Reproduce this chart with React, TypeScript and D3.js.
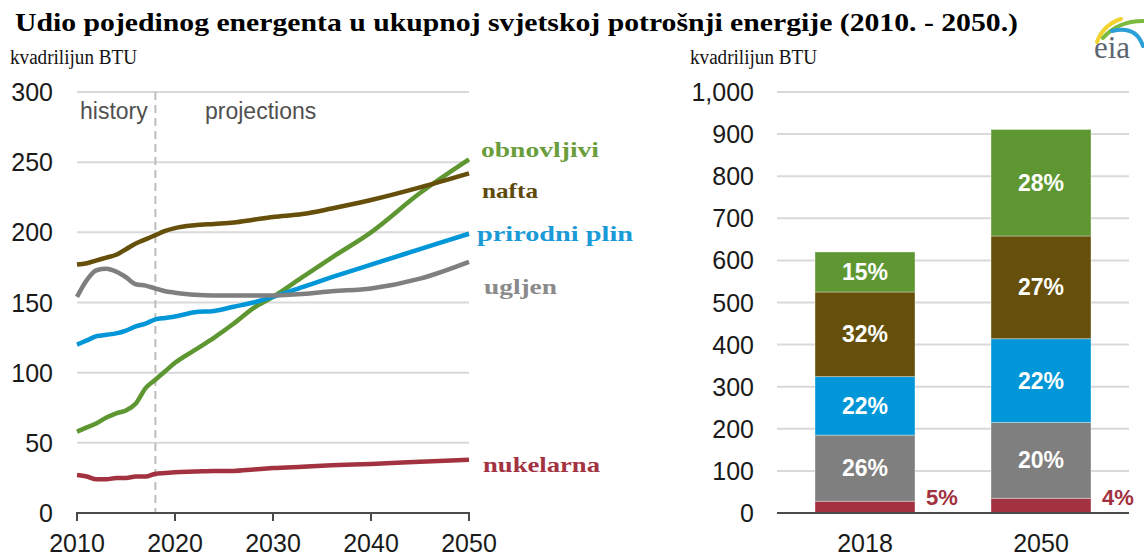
import React from 'react';
import * as d3 from 'd3';

// line chart data, quadrillion BTU
const years = [2010, 2011, 2012, 2013, 2014, 2015, 2016, 2017, 2018, 2019, 2020, 2022, 2024, 2026, 2028, 2030, 2033, 2036, 2040, 2045, 2050];
const renewables = [58, 61, 64, 68, 71, 73, 78, 89, 95, 101, 107, 116, 125, 135, 146, 154, 168, 182, 200, 228, 252];
const oil = [177, 178, 180, 182, 184, 188, 192, 195, 198, 201, 203, 205, 206, 207, 209, 211, 213, 217, 223, 232, 242];
const gas = [120, 123, 126, 127, 128, 130, 133, 135, 138, 139, 140, 143, 144, 147, 150, 154, 161, 168, 177, 188, 199];
const coal = [154, 166, 173, 174, 172, 168, 163, 162, 160, 158, 157, 155.5, 155, 155, 155, 155, 156, 158, 160, 167, 179];
const nuclear = [27, 26, 24, 24, 25, 25, 26, 26, 28, 28.5, 29, 29.5, 30, 30, 31, 32, 33, 34, 35, 36.5, 38];

const lineTicksY = [0, 50, 100, 150, 200, 250, 300];
const lineTicksX = [2010, 2020, 2030, 2040, 2050];

// stacked bars
const barYears = ['2018', '2050'];
const barNuclear = [28, 35];
const barCoal = [157, 180];
const barGas = [139, 199];
const barOil = [201, 244];
const barRenew = [95, 253];
const pctNuclear = ['5%', '4%'];
const pctCoal = ['26%', '20%'];
const pctGas = ['22%', '22%'];
const pctOil = ['32%', '27%'];
const pctRenew = ['15%', '28%'];
const barTicksY = [0, 100, 200, 300, 400, 500, 600, 700, 800, 900, 1000];

const C = {
  renew: '#5e9732',
  oil: '#654f0a',
  gas: '#0096d7',
  coal: '#7f7f7f',
  nuclear: '#a2323f',
};

const series = [
  { name: 'obnovljivi', values: renewables, color: C.renew, text: '#6a9e3c', ly: 157, lx: 481, len: 118 },
  { name: 'nafta', values: oil, color: C.oil, text: '#5e4a0c', ly: 198, lx: 482, len: 56 },
  { name: 'prirodni plin', values: gas, color: C.gas, text: '#1a9ad6', ly: 241, lx: 477, len: 156 },
  { name: 'ugljen', values: coal, color: C.coal, text: '#8a8a8a', ly: 294, lx: 484, len: 73 },
  { name: 'nukelarna', values: nuclear, color: C.nuclear, text: '#a33342', ly: 472, lx: 483, len: 117 },
];

const App = () => {
  // left line chart
  const x = d3.scaleLinear().domain([2010, 2050]).range([77, 469]);
  const y = d3.scaleLinear().domain([0, 300]).range([513, 92]);
  const line = d3.line<number>()
    .x((_, i) => x(years[i]))
    .y(d => y(d))
    .curve(d3.curveMonotoneX);

  // right stacked bars
  const xb = d3.scaleBand().domain(barYears).range([777, 1129]).paddingInner(0.432).paddingOuter(0.216);
  const yb = d3.scaleLinear().domain([0, 1000]).range([513, 92]);
  const layers = [
    { vals: barNuclear, color: C.nuclear, pct: pctNuclear },
    { vals: barCoal, color: C.coal, pct: pctCoal },
    { vals: barGas, color: C.gas, pct: pctGas },
    { vals: barOil, color: C.oil, pct: pctOil },
    { vals: barRenew, color: C.renew, pct: pctRenew },
  ];
  const fmt = d3.format(',');

  return (
    <div style={{ position: 'fixed', left: 0, top: 0 }}>
      <svg width={1144} height={556} style={{ display: 'block', background: '#fff' }}>
        <text x={15} y={31} fontFamily="Liberation Serif" fontWeight="bold" fontSize={25} fill="#000"
          textLength={1003} lengthAdjust="spacingAndGlyphs">
          Udio pojedinog energenta u ukupnoj svjetskoj potrošnji energije (2010. - 2050.)
        </text>

        {/* eia logo */}
        <g>
          <path d="M1097,42 Q1103,25 1121,19" fill="none" stroke="#f2d22e" strokeWidth={4} strokeLinecap="round" />
          <path d="M1103,38 Q1118,21 1143,21" fill="none" stroke="#7cba3f" strokeWidth={4} strokeLinecap="round" />
          <path d="M1112,31 Q1136,25 1143,46" fill="none" stroke="#2a9fd8" strokeWidth={4} strokeLinecap="round" />
          <text x={1094} y={58} fontFamily="Liberation Serif" fontSize={31} fill="#5b6770">eia</text>
        </g>

        {/* left chart */}
        <text x={10} y={64} fontFamily="Liberation Serif" fontSize={20} fill="#111"
          textLength={127} lengthAdjust="spacingAndGlyphs">kvadrilijun BTU</text>
        {lineTicksY.map(t => (
          <g key={t}>
            {t > 0 && <line x1={77} x2={469} y1={y(t)} y2={y(t)} stroke="#d9d9d9" strokeWidth={2} />}
            <text x={53} y={y(t) + 9} textAnchor="end" fontFamily="Liberation Sans" fontSize={25} fill="#1a1a1a">{t}</text>
          </g>
        ))}
        <line x1={x(2018)} x2={x(2018)} y1={92} y2={513} stroke="#bdbdbd" strokeWidth={2} strokeDasharray="8,5" />
        <text x={80} y={119} fontFamily="Liberation Sans" fontSize={23} fill="#505050">history</text>
        <text x={205} y={119} fontFamily="Liberation Sans" fontSize={23} fill="#505050">projections</text>
        {series.map(s => (
          <path key={s.name} d={line(s.values) || ''} fill="none" stroke={s.color} strokeWidth={4.5} strokeLinejoin="round" />
        ))}
        <line x1={76} x2={470} y1={513} y2={513} stroke="#4a4a4a" strokeWidth={2} />
        {lineTicksX.map(t => (
          <g key={t}>
            <line x1={x(t)} x2={x(t)} y1={513} y2={521} stroke="#4a4a4a" strokeWidth={2} />
            <text x={x(t)} y={552} textAnchor="middle" fontFamily="Liberation Sans" fontSize={25} fill="#1a1a1a">{t}</text>
          </g>
        ))}
        {series.map(s => (
          <text key={s.name} x={s.lx} y={s.ly} fontFamily="Liberation Serif" fontWeight="bold" fontSize={22} fill={s.text}
            textLength={s.len} lengthAdjust="spacingAndGlyphs">{s.name}</text>
        ))}

        {/* right chart */}
        <text x={690} y={64} fontFamily="Liberation Serif" fontSize={20} fill="#111"
          textLength={127} lengthAdjust="spacingAndGlyphs">kvadrilijun BTU</text>
        {barTicksY.map(t => (
          <g key={t}>
            {t > 0 && <line x1={777} x2={1129} y1={yb(t)} y2={yb(t)} stroke="#d9d9d9" strokeWidth={2} />}
            <text x={754} y={yb(t) + 9} textAnchor="end" fontFamily="Liberation Sans" fontSize={25} fill="#1a1a1a">{fmt(t)}</text>
          </g>
        ))}
        {barYears.map((yr, i) => {
          let base = 0;
          const bx = xb(yr) || 0;
          const bw = xb.bandwidth();
          return (
            <g key={yr}>
              {layers.map((l, j) => {
                const y0 = base;
                const y1 = base + l.vals[i];
                base = y1;
                return (
                  <g key={j}>
                    <rect x={bx} y={yb(y1)} width={bw} height={yb(y0) - yb(y1)} fill={l.color}
                      stroke="#ffffff" strokeOpacity={0.35} strokeWidth={1} />
                    {j > 0 && (
                      <text x={bx + bw / 2} y={(yb(y0) + yb(y1)) / 2 + 8} textAnchor="middle"
                        fontFamily="Liberation Sans" fontWeight="bold" fontSize={23} fill="#fff">{l.pct[i]}</text>
                    )}
                    {j === 0 && (
                      <text x={bx + bw + 11} y={505} fontFamily="Liberation Sans" fontWeight="bold" fontSize={22} fill={C.nuclear}>{l.pct[i]}</text>
                    )}
                  </g>
                );
              })}
              <text x={bx + bw / 2} y={552} textAnchor="middle" fontFamily="Liberation Sans" fontSize={25} fill="#1a1a1a">{yr}</text>
            </g>
          );
        })}
        <line x1={777} x2={1129} y1={513} y2={513} stroke="#4a4a4a" strokeWidth={2} />
      </svg>
    </div>
  );
};

export default App;
